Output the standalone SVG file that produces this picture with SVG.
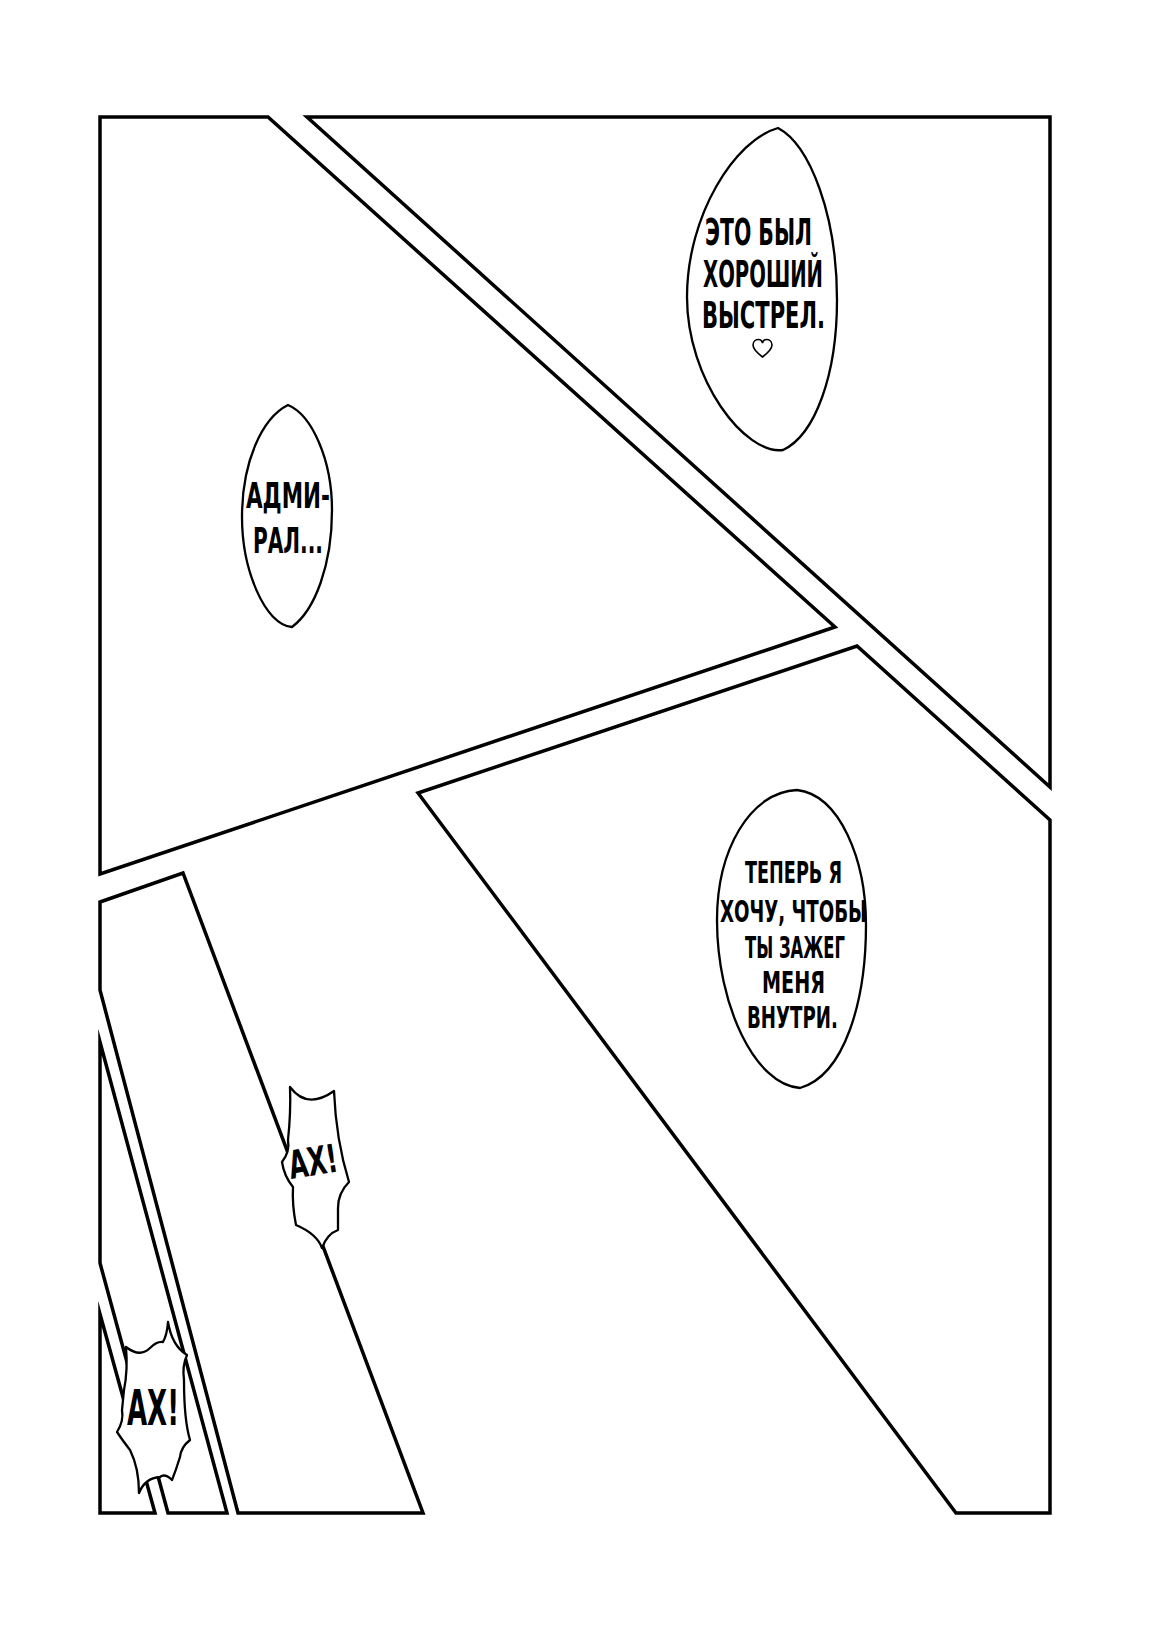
<svg xmlns="http://www.w3.org/2000/svg" width="1150" height="1629" viewBox="0 0 1150 1629">
<style>
.pn{fill:#fff;stroke:#000;stroke-width:3.5;stroke-linejoin:miter;stroke-miterlimit:10}
.bb{fill:#fff;stroke:#000;stroke-width:2.3;stroke-linejoin:round}
.t{font-family:"DejaVu Sans Condensed","DejaVu Sans","Liberation Sans",sans-serif;font-weight:bold;fill:#000}
</style>
<rect width="1150" height="1629" fill="#fff"/>
<g id="panels">
<polygon id="panel1" class="pn" points="100,117 268,117 835,627 100,874"/>
<polygon id="panel2" class="pn" points="307,117 1050,117 1050,787"/>
<polygon id="panel3" class="pn" points="418,793 857,646 1050,820 1050,1513 956,1513"/>
<polygon id="panel4" class="pn" points="100,902 183,873 423,1513 238,1513 100,990"/>
<polygon id="panel5" class="pn" points="100,1042 227,1513 168,1513 100,1263"/>
<polygon id="panel6" class="pn" points="100,1314 155,1513 100,1513"/>
</g>
<g id="bubble1">
<path class="bb" d="M778,128 C810,145 837,215 837,300 C837,375 815,435 783,450 C745,455 687,380 687,297 C687,215 735,140 778,128 Z"/>
<text class="t" font-size="38" x="705" y="245" textLength="107" lengthAdjust="spacingAndGlyphs">ЭТО БЫЛ</text>
<text class="t" font-size="38" x="703" y="287" textLength="120" lengthAdjust="spacingAndGlyphs">ХОРОШИЙ</text>
<text class="t" font-size="38" x="702" y="328" textLength="123" lengthAdjust="spacingAndGlyphs">ВЫСТРЕЛ.</text>
<path d="M762.5,357 C756,352 753,348 753,345 C753,341 756,339.5 758.5,339.5 C760.5,339.5 762,341 762.5,343 C763,341 764.5,339.5 766.5,339.5 C769,339.5 772,341 772,345 C772,348 769,352 762.5,357 Z" fill="none" stroke="#000" stroke-width="1.6"/>
</g>
<g id="bubble2">
<path class="bb" d="M288,405 C312,415 332,460 332,510 C332,565 315,610 292,627 C265,625 242,570 242,517 C242,462 262,418 288,405 Z"/>
<text class="t" font-size="35" x="246" y="508" textLength="84" lengthAdjust="spacingAndGlyphs">АДМИ-</text>
<text class="t" font-size="35" x="253" y="553" textLength="70" lengthAdjust="spacingAndGlyphs">РАЛ...</text>
</g>
<g id="bubble3">
<path class="bb" d="M797,790 C840,795 866,860 866,925 C866,1000 845,1075 800,1088 C755,1085 717,1005 717,920 C717,850 750,792 797,790 Z"/>
<text class="t" font-size="30" x="745" y="883" textLength="97" lengthAdjust="spacingAndGlyphs">ТЕПЕРЬ Я</text>
<text class="t" font-size="30" x="720" y="922" textLength="147" lengthAdjust="spacingAndGlyphs">ХОЧУ, ЧТОБЫ</text>
<text class="t" font-size="30" x="745" y="958" textLength="100" lengthAdjust="spacingAndGlyphs">ТЫ ЗАЖЕГ</text>
<text class="t" font-size="30" x="762" y="993" textLength="63" lengthAdjust="spacingAndGlyphs">МЕНЯ</text>
<text class="t" font-size="30" x="747" y="1028" textLength="91" lengthAdjust="spacingAndGlyphs">ВНУТРИ.</text>
</g>
<g id="bubble4">
<path class="bb" d="M290,1087 Q307,1110 334,1091 Q336,1140 349,1182 Q338,1193 338,1208 L338,1230 Q327,1234 322,1248 Q317,1234 296,1225 Q292,1205 293,1187 Q284,1176 282,1162 Q290,1152 288,1140 Q291,1112 290,1087 Z"/>
<text class="t" font-size="39" x="291" y="1179" textLength="49" lengthAdjust="spacingAndGlyphs" transform="rotate(-9 291 1179)">АХ!</text>
</g>
<g id="bubble5">
<path class="bb" d="M126,1347 Q140,1358 150,1348 Q157,1341 163,1342 Q167,1335 168,1322 Q172,1346 187,1355 Q182,1366 184,1380 Q184,1420 190,1440 Q181,1447 180,1457 Q176,1470 172,1480 Q165,1473 160,1477 Q145,1478 139,1493 Q139,1468 130,1450 Q123,1441 117,1432 Q124,1421 122,1410 L124,1390 Q128,1370 126,1347 Z"/>
<text class="t" font-size="50" x="127" y="1425" textLength="52" lengthAdjust="spacingAndGlyphs">АХ!</text>
</g>
</svg>
